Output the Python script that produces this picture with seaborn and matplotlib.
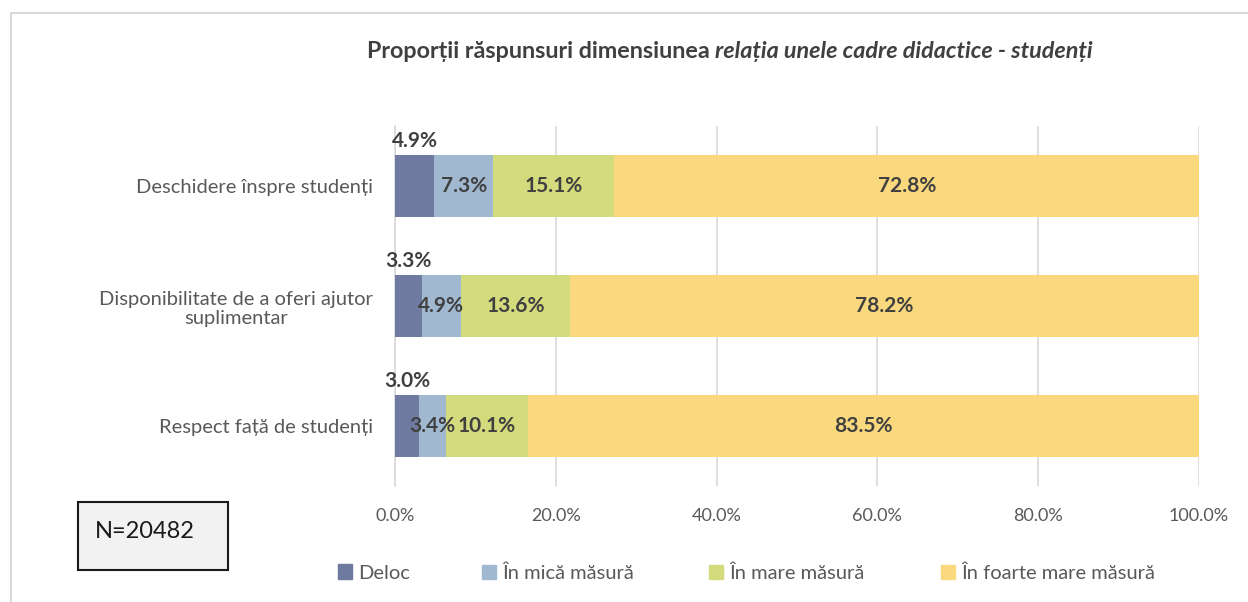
import pandas as pd
import matplotlib.pyplot as plt
import seaborn as sns
from matplotlib.patches import Rectangle
from matplotlib.lines import Line2D

# date din grafic
categorii = ["Deschidere înspre studenți",
             "Disponibilitate de a oferi ajutor\nsuplimentar",
             "Respect față de studenți"]
serii = ["Deloc", "În mică măsură", "În mare măsură", "În foarte mare măsură"]
deloc = [4.9, 3.3, 3.0]
mica = [7.3, 4.9, 3.4]
mare = [15.1, 13.6, 10.1]
foarte = [72.8, 78.2, 83.5]
culori = ["#6F7AA0", "#A1B9D0", "#D3DB7D", "#FAD87E"]
xticks = [0, 20, 40, 60, 80, 100]

sns.set_theme(style="white")
plt.rcParams['font.family'] = ['Lato', 'DejaVu Sans']
text_col = "#404040"

df = pd.DataFrame({"cat": categorii, serii[0]: deloc, serii[1]: mica,
                   serii[2]: mare, serii[3]: foarte})
cum = df[serii].cumsum(axis=1)

W, H = 1248, 602
fig = plt.figure(figsize=(W / 100, H / 100), dpi=100)
ax = fig.add_axes([395 / W, 1 - 486 / H, (1199 - 395) / W, (486 - 126) / H])

# barele stivuite: desenam cumulativ, de la ultima serie la prima
for i in range(len(serii) - 1, -1, -1):
    sns.barplot(x=cum[serii[i]], y=df["cat"], color=culori[i], ax=ax,
                width=0.52, orient="h", saturation=1, linewidth=0, zorder=3)

ax.set_xlim(0, 100)
ax.set_xticks(xticks)
ax.set_xticklabels([f"{t:.1f}%" for t in xticks], color="#595959", fontsize=13)
ax.tick_params(axis="x", length=0, pad=16)
ax.tick_params(axis="y", length=0, pad=16)
for lab in ax.get_yticklabels():
    lab.set_fontsize(14.5)
    lab.set_color("#595959")
    lab.set_multialignment("center")
ax.set_xlabel("")
ax.set_ylabel("")
ax.grid(axis="x", color="#D9D9D9", linewidth=1.2, zorder=0)
for s in ["top", "right", "bottom"]:
    ax.spines[s].set_visible(False)
ax.spines["left"].set_color("#D9D9D9")
ax.spines["left"].set_linewidth(1.2)

# etichete de date
for r in range(len(categorii)):
    start = 0
    for i, s in enumerate(serii):
        v = df[s][r]
        mid = start + v / 2
        if i == 0:
            ax.text(mid, r - 0.29, f"{v:.1f}%", ha="center", va="bottom",
                    fontsize=15, fontweight="bold", color=text_col, zorder=5)
        else:
            ax.text(mid, r, f"{v:.1f}%", ha="center", va="center",
                    fontsize=15, fontweight="bold", color=text_col, zorder=5)
        start += v

# titlu: parte normala + parte italica
ty = 1 - 52 / H
t1 = fig.text(0, ty, "Proporții răspunsuri dimensiunea ", ha="left", va="center",
              fontsize=16.8, fontweight="bold", color=text_col)
t2 = fig.text(0, ty, "relația unele cadre didactice - studenți", ha="left",
              va="center", fontsize=16.8, fontweight="bold", style="italic", color=text_col)
fig.canvas.draw()
r = fig.canvas.get_renderer()
w1 = t1.get_window_extent(r).width
w2 = t2.get_window_extent(r).width
x0 = 730 - (w1 + w2) / 2
t1.set_x(x0 / W)
t2.set_x((x0 + w1) / W)

# legenda: fiecare element la pozitia lui
leg_x = [338, 482, 709, 941]
for c, s, lx in zip(culori, serii, leg_x):
    leg = fig.legend([Rectangle((0, 0), 1, 1, color=c)], [s], loc="center left",
                     bbox_to_anchor=(lx / W, 1 - 573 / H), frameon=False, fontsize=14.5,
                     handlelength=0.7, handleheight=0.7, handletextpad=0.3,
                     borderpad=0, borderaxespad=0)
    for t in leg.get_texts():
        t.set_color("#595959")

# caseta N
fig.patches.append(Rectangle((78 / W, 1 - 570 / H), 150 / W, 68 / H,
                             transform=fig.transFigure, facecolor="#F2F2F2",
                             edgecolor="#1a1a1a", linewidth=1.5))
fig.text(145 / W, 1 - 532 / H, "N=20482", ha="center", va="center", fontsize=17,
         color="#1a1a1a")

# chenarul graficului
fig.lines.append(Line2D([11 / W, 11 / W], [0, 1 - 13 / H], transform=fig.transFigure,
                        color="#D9D9D9", linewidth=1.5))
fig.lines.append(Line2D([11 / W, 1], [1 - 13 / H, 1 - 13 / H], transform=fig.transFigure,
                        color="#D9D9D9", linewidth=1.5))

fig.savefig("out.png", dpi=100, facecolor="white")
